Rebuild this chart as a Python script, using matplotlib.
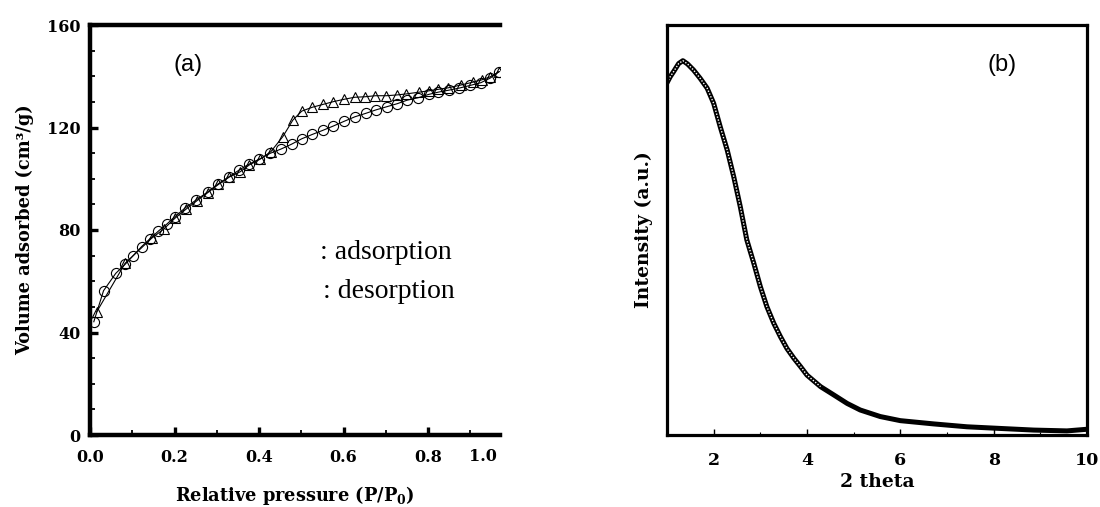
import matplotlib
matplotlib.use("Agg")
import matplotlib.pyplot as plt
from matplotlib.ticker import MultipleLocator, NullLocator

# ---------------- data: panel (a) N2 isotherm ----------------
p_ads = [0.009, 0.032, 0.061, 0.083, 0.101, 0.122, 0.142, 0.162, 0.181, 0.201,
         0.225, 0.251, 0.278, 0.304, 0.329, 0.353, 0.375, 0.401, 0.426, 0.452,
         0.477, 0.501, 0.526, 0.551, 0.576, 0.601, 0.627, 0.652, 0.677, 0.702,
         0.727, 0.751, 0.776, 0.801, 0.824, 0.850, 0.874, 0.899, 0.925, 0.947, 0.968]
v_ads = [44.2, 56.3, 63.1, 66.6, 69.8, 73.5, 76.6, 79.6, 82.2, 85.2,
         88.6, 91.7, 94.8, 98.1, 100.8, 103.4, 105.6, 107.7, 109.9, 111.6,
         113.5, 115.6, 117.3, 118.9, 120.6, 122.4, 124.2, 125.5, 126.9, 128.1,
         129.3, 130.7, 131.6, 132.9, 133.8, 134.6, 135.4, 136.4, 137.5, 139.3, 141.8]

p_des = [0.016, 0.083, 0.146, 0.174, 0.201, 0.227, 0.252, 0.278, 0.304, 0.330,
         0.355, 0.377, 0.402, 0.428, 0.456, 0.480, 0.501, 0.526, 0.551, 0.576,
         0.601, 0.626, 0.651, 0.675, 0.701, 0.726, 0.748, 0.779, 0.801, 0.824,
         0.848, 0.878, 0.906, 0.927, 0.947, 0.968]
v_des = [48.1, 67.0, 76.8, 80.3, 84.6, 88.1, 91.3, 94.5, 97.8, 100.7,
         102.7, 105.4, 107.6, 110.6, 116.4, 122.9, 126.4, 127.9, 129.0, 130.1,
         131.0, 131.8, 132.0, 132.4, 132.4, 132.7, 133.1, 133.8, 134.3, 134.9,
         135.5, 136.6, 137.7, 138.6, 139.8, 141.8]

x_ticks_a = [0.0, 0.2, 0.4, 0.6, 0.8]
x_ticklabels_a = ["0.0", "0.2", "0.4", "0.6", "0.8"]
y_ticks_a = [0, 40, 80, 120, 160]

# ---------------- data: panel (b) low-angle XRD ----------------
theta2 = [1.00, 1.07, 1.14, 1.25, 1.34, 1.44, 1.57, 1.71, 1.86, 2.00,
          2.14, 2.29, 2.43, 2.57, 2.71, 2.86, 3.00, 3.14, 3.29, 3.43,
          3.57, 3.72, 3.86, 4.00, 4.29, 4.57, 4.86, 5.14, 5.57, 6.00,
          6.72, 7.43, 8.14, 8.86, 9.57, 10.00]
intensity = [85.9, 87.4, 88.6, 90.6, 91.3, 90.5, 89.0, 87.0, 84.6, 80.9,
             75.2, 69.5, 63.0, 55.7, 47.6, 41.9, 36.2, 31.3, 27.2, 24.0,
             21.1, 18.7, 16.7, 14.6, 11.8, 9.8, 7.7, 6.1, 4.5, 3.5,
             2.7, 2.0, 1.6, 1.2, 1.0, 1.4]
x_ticks_b = [2, 4, 6, 8, 10]

plt.rcParams["mathtext.fontset"] = "dejavuserif"
serif_b = dict(family="DejaVu Serif", weight="bold")

W, H = 1100, 507
fig = plt.figure(figsize=(W / 100, H / 100), dpi=100)

# ---------------- panel (a) ----------------
ax1 = fig.add_axes([90 / W, 72 / H, 410 / W, 410 / H])
ax1.plot(p_ads, v_ads, color="black", lw=0.8, marker="o", ms=7.3,
         mfc="none", mec="black", mew=0.8)
ax1.plot(p_des, v_des, color="black", lw=0.8, marker="^", ms=7.3,
         mfc="none", mec="black", mew=0.8)
ax1.set_xlim(0, 0.97)
ax1.set_ylim(0, 160)
ax1.set_xticks(x_ticks_a)
ax1.set_xticklabels(x_ticklabels_a)
ax1.set_yticks(y_ticks_a)
ax1.xaxis.set_minor_locator(MultipleLocator(0.1))
ax1.yaxis.set_minor_locator(MultipleLocator(10))
for s in ["left", "bottom", "top"]:
    ax1.spines[s].set_linewidth(3.2)
ax1.spines["right"].set_visible(False)
ax1.tick_params(which="major", direction="in", length=6, width=2.4,
                top=False, right=False, labelsize=11.5)
ax1.tick_params(axis="x", which="major", pad=10)
ax1.tick_params(axis="y", which="major", pad=7)
ax1.tick_params(which="minor", direction="in", length=3.5, width=1.3,
                top=False, right=False)
for lab in ax1.get_xticklabels() + ax1.get_yticklabels():
    lab.set_fontfamily("DejaVu Serif")
    lab.set_fontweight("bold")
ax1.text(0.958, -0.0315, "1.0", transform=ax1.transAxes, ha="center", va="top",
         fontsize=11.5, **serif_b)
ax1.set_xlabel(r"Relative pressure (P/P$_\mathbf{0}$)", fontsize=12.8,
               labelpad=13, **serif_b)
ax1.set_ylabel("Volume adsorbed (cm³/g)", fontsize=12.8, labelpad=9, **serif_b)
ax1.text(0.239, 0.902, "(a)", transform=ax1.transAxes, ha="center", va="center",
         fontsize=17, family="Liberation Sans")
ax1.text(0.561, 0.444, ": adsorption", transform=ax1.transAxes, ha="left",
         va="center", fontsize=20, family="Liberation Serif")
ax1.text(0.568, 0.349, ": desorption", transform=ax1.transAxes, ha="left",
         va="center", fontsize=20, family="Liberation Serif")

# ---------------- panel (b) ----------------
ax2 = fig.add_axes([667 / W, 72 / H, 420 / W, 410 / H])
ax2.plot(theta2, intensity, color="black", lw=3.6, solid_capstyle="round",
         solid_joinstyle="round")
n_hollow = 25
ax2.plot(theta2[:n_hollow], intensity[:n_hollow], color="white", lw=1.0,
         ls=(0, (1, 1.2)))
ax2.set_xlim(1, 10)
ax2.set_ylim(0, 100)
ax2.set_xticks(x_ticks_b)
ax2.xaxis.set_minor_locator(MultipleLocator(1))
ax2.yaxis.set_major_locator(NullLocator())
for s in ax2.spines.values():
    s.set_linewidth(2.3)
ax2.tick_params(which="major", direction="in", length=4, width=1.0,
                labelsize=12.5, pad=12)
ax2.tick_params(which="minor", direction="in", length=2.5, width=0.8)
for lab in ax2.get_xticklabels():
    lab.set_fontfamily("DejaVu Serif")
    lab.set_fontweight("bold")
ax2.set_xlabel("2 theta", fontsize=13.5, labelpad=3, **serif_b)
ax2.set_ylabel("Intensity (a.u.)", fontsize=13.5, labelpad=10, **serif_b)
ax2.text(0.798, 0.902, "(b)", transform=ax2.transAxes, ha="center", va="center",
         fontsize=17, family="Liberation Sans")

fig.savefig("out.png", dpi=100)
